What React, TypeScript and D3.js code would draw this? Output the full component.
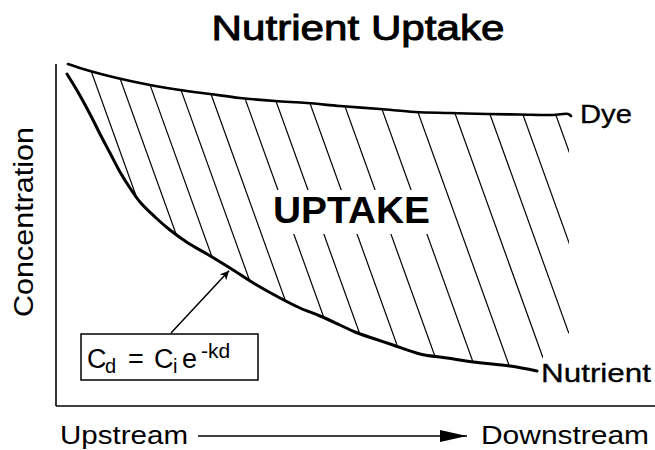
import React from 'react'
import * as d3 from 'd3'

// concentration along the stream, arbitrary units (distance, concentration)
const dyeCurve: [number, number][] = [
  [11, 341], [33, 334], [60, 327], [93, 320], [123, 315], [153, 311], [183, 307],
  [218, 304], [250, 302], [283, 299], [323, 296], [358, 293], [393, 292],
  [430, 291], [463, 290.5], [496, 290], [511, 291], [514, 289],
]
const nutrientCurve: [number, number][] = [
  [10, 331], [18, 318], [26, 304], [35, 287], [43, 271], [53, 252], [63, 233],
  [73, 217], [83, 203], [98, 188], [113, 175], [131, 162], [150, 151], [173, 137],
  [198, 121], [223, 107], [243, 97], [263, 89], [283, 80], [298, 73], [318, 66],
  [336, 60], [363, 51], [390, 47], [416, 43], [453, 39], [480, 34],
]
// where each hatch stroke leaves the dye curve
const hatchStarts = [31, 60, 90, 121, 151, 185, 216, 250, 285, 322, 358, 395, 430, 463, 496]
// right-hand end of the hatched area
const hatchEdge: [number, number][] = [[512, 291], [512, 72], [487, 50]]
const arrowAt = 171

const title = 'Nutrient  Uptake'
const yLabel = 'Concentration'
const xLabels = ['Upstream', 'Downstream']
const areaLabel = 'UPTAKE'

const W = 655
const H = 450
const font = '"Liberation Sans", Arial, Helvetica, sans-serif'

const x = d3.scaleLinear().domain([0, 600]).range([57, 657])
const y = d3.scaleLinear().domain([0, 350]).range([405, 55])

const interp = (pts: [number, number][], d: number) => {
  const i = Math.max(1, Math.min(pts.length - 1, d3.bisector((p: [number, number]) => p[0]).left(pts, d)))
  const a = pts[i - 1], b = pts[i]
  const t = (d - a[0]) / (b[0] - a[0])
  return a[1] + t * (b[1] - a[1])
}

export default function App() {
  const line = d3.line<[number, number]>()
    .x(d => x(d[0]))
    .y(d => y(d[1]))
    .curve(d3.curveCatmullRom.alpha(0.5))

  const clipPts = [...dyeCurve, ...hatchEdge, ...[...nutrientCurve].reverse()]
  const clipPath = d3.line<[number, number]>().x(d => x(d[0])).y(d => y(d[1]))(clipPts) + 'Z'

  const lean = 0.36
  const hatch = hatchStarts.map(s => {
    const x0 = x(s)
    const y0 = y(interp(dyeCurve, s)) - 8
    const len = 320
    return { x1: x0 - lean * 8, y1: y0 - 8, x2: x0 + lean * len, y2: y0 + len }
  })

  const tipX = x(arrowAt) + 1
  const tipY = y(interp(nutrientCurve, arrowAt)) + 4

  return (
    <svg width={W} height={H} style={{ position: 'absolute', left: 0, top: 0, background: '#fff' }}
      fontFamily={font}>
      <defs>
        <clipPath id="between">
          <path d={clipPath} />
        </clipPath>
        <marker id="head" viewBox="0 0 10 10" refX="10" refY="5" markerWidth="9" markerHeight="9"
          orient="auto" markerUnits="userSpaceOnUse">
          <path d="M0,0 L10,5 L0,10 L3,5 Z" fill="#000" />
        </marker>
      </defs>
      <rect width={W} height={H} fill="#fff" />

      <text x={358} y={40} textAnchor="middle" fontSize={35} stroke="#000" strokeWidth={0.9}
        textLength={293} lengthAdjust="spacingAndGlyphs">{title}</text>

      {/* axes */}
      <line x1={56} y1={64} x2={56} y2={406} stroke="#000" strokeWidth={1.6} />
      <line x1={56} y1={406} x2={W} y2={406} stroke="#000" strokeWidth={1.6} />

      <g clipPath="url(#between)">
        {hatch.map((h, i) => (
          <line key={i} {...h} stroke="#000" strokeWidth={1.2} />
        ))}
      </g>

      <rect x={266} y={190} width={171} height={44} fill="#fff" />
      <text x={273} y={223} fontSize={36} fontWeight="bold" textLength={157}
        lengthAdjust="spacingAndGlyphs">{areaLabel}</text>

      <path d={line(dyeCurve) ?? ''} fill="none" stroke="#000" strokeWidth={2.6} strokeLinecap="round" />
      <path d={line(nutrientCurve) ?? ''} fill="none" stroke="#000" strokeWidth={3} strokeLinecap="round" />

      <text x={580} y={123} fontSize={25} stroke="#000" strokeWidth={0.3}
        textLength={52} lengthAdjust="spacingAndGlyphs">Dye</text>
      <text x={541} y={382} fontSize={26} stroke="#000" strokeWidth={0.3}
        textLength={110} lengthAdjust="spacingAndGlyphs">Nutrient</text>

      <text transform="translate(33,222) rotate(-90)" textAnchor="middle" fontSize={27}
        textLength={190} lengthAdjust="spacingAndGlyphs">{yLabel}</text>

      {/* formula callout */}
      <line x1={171} y1={333} x2={tipX} y2={tipY} stroke="#000" strokeWidth={1.5} markerEnd="url(#head)" />
      <rect x={81} y={334} width={177} height={46} fill="#fff" stroke="#000" strokeWidth={1.5} />
      <text fontSize={27}>
        <tspan x={87} y={368}>C</tspan>
        <tspan x={105} y={373} fontSize={20}>d</tspan>
        <tspan x={128} y={368}>=</tspan>
        <tspan x={154} y={368}>C</tspan>
        <tspan x={173} y={373} fontSize={20}>i</tspan>
        <tspan x={182} y={368}>e</tspan>
        <tspan x={201} y={358} fontSize={21}>-kd</tspan>
      </text>

      {/* flow direction */}
      <text x={60} y={444} fontSize={26} textLength={128} lengthAdjust="spacingAndGlyphs">{xLabels[0]}</text>
      <line x1={198} y1={436} x2={467} y2={436} stroke="#000" strokeWidth={1.5} />
      <path d="M440,430 L467,436 L440,442 Z" fill="#000" />
      <text x={481} y={444} fontSize={26} textLength={168} lengthAdjust="spacingAndGlyphs">{xLabels[1]}</text>
    </svg>
  )
}
